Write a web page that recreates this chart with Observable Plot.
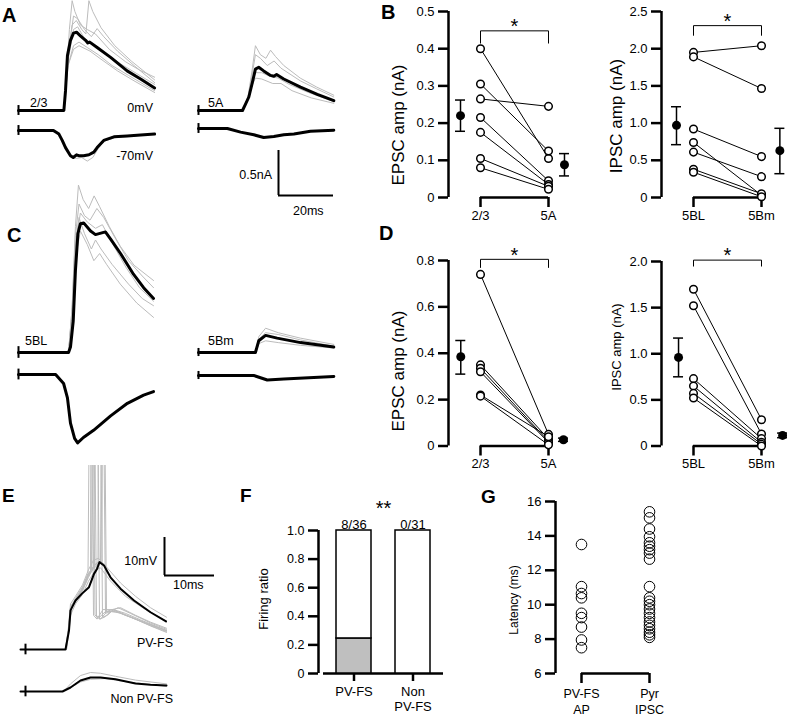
<!DOCTYPE html>
<html><head><meta charset="utf-8">
<script src="https://cdn.jsdelivr.net/npm/d3@7"></script>
<script src="https://cdn.jsdelivr.net/npm/@observablehq/plot@0.6"></script>
<style>
html,body{margin:0;padding:0;background:#fff;}
#fig{position:relative;width:787px;height:717px;overflow:hidden;background:#fff;}
</style></head><body><div id="fig"></div>
<script>
// ================= DATA =================
// ---- Panel B (amplitudes, nA) ----
const bEpscCats = ["2/3", "5A"];
const bEpscTicks = [0, 0.1, 0.2, 0.3, 0.4, 0.5];
const bEpscPre  = [0.40, 0.305, 0.265, 0.215, 0.175, 0.105, 0.08];
const bEpscPost = [0.105, 0.125, 0.245, 0.045, 0.035, 0.03, 0.022];
const bEpscMean = [0.22, 0.088];
const bEpscErr  = [[0.178, 0.262], [0.058, 0.118]];

const bIpscCats = ["5BL", "5Bm"];
const bIpscTicks = [0, 0.5, 1.0, 1.5, 2.0, 2.5];
const bIpscPre  = [1.95, 1.89, 0.92, 0.74, 0.61, 0.38, 0.34];
const bIpscPost = [2.04, 1.465, 0.55, 0.03, 0.28, 0.05, 0.01];
const bIpscMean = [0.97, 0.63];
const bIpscErr  = [[0.71, 1.22], [0.32, 0.93]];

// ---- Panel D ----
const dEpscCats = ["2/3", "5A"];
const dEpscTicks = [0, 0.2, 0.4, 0.6, 0.8];
const dEpscPre  = [0.74, 0.35, 0.335, 0.32, 0.22, 0.215];
const dEpscPost = [0.05, 0.03, 0.02, 0.015, 0.04, 0.005];
const dEpscMean = [0.385, 0.027];
const dEpscErr  = [[0.31, 0.455], [0.02, 0.034]];

const dIpscCats = ["5BL", "5Bm"];
const dIpscTicks = [0, 0.5, 1.0, 1.5, 2.0];
const dIpscPre  = [1.70, 1.52, 0.73, 0.65, 0.57, 0.52];
const dIpscPost = [0.285, 0.13, 0.08, 0.04, 0.02, 0.0];
const dIpscMean = [0.96, 0.115];
const dIpscErr  = [[0.75, 1.17], [0.09, 0.14]];

// ---- Panel F (firing ratio) ----
const fCats = [["PV-FS", ""], ["Non", "PV-FS"]];
const fTicks = [0, 0.2, 0.4, 0.6, 0.8, 1.0];
const fFired = [0.245, 0];
const fCounts = ["8/36", "0/31"];

// ---- Panel G (latency, ms) ----
const gCats = [["PV-FS", "AP"], ["Pyr", "IPSC"]];
const gTicks = [6, 8, 10, 12, 14, 16];
const gPvAp = [13.5, 11.05, 10.65, 10.4, 9.5, 9.25, 8.7, 7.95, 7.5];
const gPyrIpsc = [15.4, 15.05, 14.4, 13.95, 13.6, 13.4, 13.2, 13.0, 12.65,
                  11.05, 10.4, 10.2, 10.0, 9.75, 9.5, 9.25, 9.0, 8.8, 8.6, 8.4, 8.25, 8.1];

// ---- Traces: [time ms, current nA] ----
const aL23_black = [[0,0],[16.5,0],[17.1,0.22],[17.8,0.61],[18.9,0.78],[20,0.86],[21.1,0.87],[22.5,0.83],[24.4,0.78],[25.2,0.75],[25.9,0.76],[28.6,0.70],[33.5,0.59],[39.5,0.44],[44.4,0.35],[49.5,0.25]];
const aL23_g1 = [[0,0],[16.5,0],[17.5,0.4],[18.5,0.9],[19.5,1.22],[20.5,1.1],[22.5,0.95],[25,0.9],[28,0.85],[33,0.68],[39,0.54],[44,0.45],[49.5,0.37]];
const aL23_g2 = [[0,0],[16.5,0],[17.8,0.6],[19.5,0.95],[21,1.0],[23,0.9],[24.5,0.85],[25.6,1.22],[27,1.1],[30,0.92],[35,0.72],[41,0.55],[49.5,0.34]];
const aL23_g3 = [[0,0],[16.5,0],[18,0.6],[20,1.05],[21.5,1.02],[24,0.9],[26.5,0.82],[28.6,0.91],[31,0.82],[36,0.66],[42,0.5],[49.5,0.31]];
const aL23_g4 = [[0,0],[16.5,0],[18,0.55],[20,0.9],[21.5,0.93],[24,0.8],[27,0.74],[31,0.65],[37,0.52],[43,0.41],[49.5,0.29]];
const aL23_g5 = [[0,0],[16.5,0],[18,0.5],[20,0.72],[22,0.76],[25,0.7],[29,0.62],[34,0.5],[40,0.39],[49.5,0.22]];
const aL23_g6 = [[0,0],[16.5,0],[18,0.5],[20,0.68],[22,0.72],[26,0.66],[30,0.57],[36,0.44],[42,0.33],[49.5,0.2]];
const aL70_black = [[0,0],[12.7,0],[14.7,-0.04],[15.9,-0.11],[17.1,-0.19],[18.9,-0.28],[19.9,-0.30],[21.1,-0.27],[21.9,-0.28],[23.7,-0.28],[25.6,-0.27],[27.4,-0.24],[28.6,-0.19],[31,-0.11],[34.7,-0.07],[39.5,-0.06],[44.4,-0.05],[49.5,-0.04]];
const aL70_g1 = [[0,0],[12.7,0],[15,-0.06],[17,-0.2],[19,-0.29],[21,-0.31],[23,-0.3],[25,-0.34],[27,-0.3],[29,-0.2],[31,-0.12],[35,-0.08],[49.5,-0.04]];
const aR5A_black = [[0,0],[16,0],[17.1,0.07],[18.3,0.15],[19.5,0.30],[20.7,0.46],[21.9,0.48],[23.7,0.44],[26.2,0.39],[27.4,0.38],[28.4,0.40],[31,0.35],[37.1,0.26],[43.2,0.18],[49.2,0.11]];
const aR5A_g1 = [[0,0],[16,0],[18,0.15],[19.5,0.45],[20.7,0.72],[22.5,0.62],[24.5,0.58],[26.2,0.67],[28,0.6],[31,0.5],[37,0.36],[43,0.26],[49.2,0.17]];
const aR5A_g2 = [[0,0],[16,0],[18,0.15],[19.5,0.4],[20.7,0.62],[22.5,0.58],[25,0.5],[27.5,0.55],[30,0.47],[37,0.33],[43,0.24],[49.2,0.15]];
const aR5A_g3 = [[0,0],[16,0],[18,0.12],[19.5,0.3],[20.7,0.42],[23,0.42],[26,0.38],[29,0.36],[33,0.29],[40,0.2],[49.2,0.1]];
const aR5A_g4 = [[0,0],[16,0],[18,0.12],[19.5,0.28],[20.7,0.36],[23,0.35],[27,0.3],[30,0.3],[34,0.22],[41,0.14],[49.2,0.08]];
const aR70_black = [[0,0],[10.5,0],[15.3,-0.04],[20.1,-0.07],[23.7,-0.10],[27.4,-0.09],[31,-0.07],[34.7,-0.06],[40.7,-0.03],[49.2,-0.02]];

const cBL_black = [[0,0],[18.2,0],[18.9,0.06],[19.9,0.35],[20.7,0.91],[21.6,1.32],[22.5,1.43],[23.7,1.44],[26.2,1.35],[28,1.31],[31.6,1.34],[33.5,1.26],[37.1,1.10],[41.8,0.87],[45.5,0.72],[49.1,0.60]];
const cBL_g1 = [[0,0],[18.2,0],[19.5,0.5],[20.7,1.4],[21.8,1.86],[23.5,1.7],[25.5,1.6],[27.5,1.74],[29.5,1.62],[33,1.4],[37,1.18],[42,0.97],[49.1,0.8]];
const cBL_g2 = [[0,0],[18.2,0],[19.5,0.5],[20.7,1.3],[22,1.65],[24,1.52],[26,1.47],[28.5,1.6],[31,1.5],[35,1.28],[40,1.02],[45,0.85],[49.1,0.72]];
const cBL_g3 = [[0,0],[18.2,0],[19.5,0.45],[20.7,1.2],[22,1.5],[24,1.32],[26.5,1.15],[28,1.25],[30,1.15],[34,0.98],[40,0.76],[45,0.6],[49.1,0.52]];
const cBL_g4 = [[0,0],[18.2,0],[19.5,0.4],[21,1.1],[22.5,1.35],[25,1.2],[27.4,1.02],[29.5,1.1],[32,0.98],[37,0.76],[43,0.55],[49.1,0.39]];
const cBL_g5 = [[0,0],[18.2,0],[19.5,0.45],[21,1.25],[22.5,1.55],[25,1.45],[28,1.38],[30.5,1.42],[34,1.22],[39,0.95],[44,0.72],[49.1,0.57]];
const cBL70_black = [[0,0],[13.5,0],[16.4,-0.1],[17.8,-0.26],[18.9,-0.54],[20.4,-0.71],[21.5,-0.76],[23.6,-0.7],[27.3,-0.62],[33.5,-0.46],[39.6,-0.32],[45.5,-0.23],[49.1,-0.19]];
const cBm_black = [[0,0],[20.7,0],[21.9,0.13],[24.4,0.19],[28.6,0.16],[37.1,0.11],[49.2,0.06]];
const cBm_g1 = [[0,0],[20.7,0],[22,0.18],[24.4,0.27],[29,0.22],[37,0.16],[49.2,0.09]];
const cBm_g2 = [[0,0],[20.7,0],[22,0.1],[24.4,0.13],[29,0.11],[37,0.08],[49.2,0.05]];
const cBm_g3 = [[0,0],[20.7,0],[22,0.15],[24.4,0.22],[29,0.2],[37,0.14],[49.2,0.07]];
const cBm70_black = [[0,0],[20.1,0],[25,-0.05],[31,-0.04],[49.2,-0.01]];

// ---- Panel E traces: [time ms, membrane potential mV] ----
const ePv_black = [[0,0],[9,0],[9.7,5],[10,10.3],[11,12.9],[12.3,14.7],[13.7,16.4],[14.7,19.9],[15.3,21.2],[15.8,23],[16.7,22.1],[18,19],[20,16],[22.7,12.9],[26,9.8],[29.1,7.4]];
const ePv_g1 = [[0,0],[9,0],[9.6,6],[10,12],[11,14],[12.4,17],[13.6,21],[14.6,23.5],[15.6,24],[17,22],[20,17.5],[23,14],[26,11],[29.2,8.5]];
const ePv_g2 = [[0,0],[9.2,0],[10,9],[11,12],[12.4,14.5],[13.6,18],[15,21],[16,21.5],[18,18],[21,14],[25,10.5],[29.2,7.5]];
const ePv_s1 = [[0,0],[9,0],[9.6,5],[10,11],[11,13.5],[12.4,16.5],[13.5,20],[13.8,70],[14.2,70],[14.6,9],[15.3,8],[16.5,10.5],[18.5,10.5],[21,9],[25,7],[29.2,5]];
const ePv_s2 = [[0,0],[9.1,0],[9.7,6],[10.1,11.5],[11,13],[12.4,16],[13.6,19.5],[14.2,21],[14.4,70],[14.8,70],[15.2,8.5],[16,8],[17.3,10],[19,10],[22,8.5],[26,6.3],[29.2,4.7]];
const ePv_s3 = [[0,0],[9,0],[9.6,5.5],[10,11],[11,12.5],[12.4,15.5],[13.6,19],[14.6,21.5],[15,70],[15.4,70],[15.8,8],[16.8,8.5],[18,10],[20,9.6],[23,8],[26,6.2],[29.2,4.5]];
const ePv_s4 = [[0,0],[9.2,0],[9.8,6],[10.2,11],[11,13],[12.4,16],[13.6,20],[15,22.5],[15.5,23],[15.6,70],[16,70],[16.4,8.5],[17.4,9],[18.6,10.5],[21,9.5],[24,7.8],[29.2,5]];
const ePv_s5 = [[0,0],[9,0],[9.6,5],[10,10.5],[11,12.5],[12.4,15.5],[13.6,19.5],[15,22],[16,23],[16.2,70],[16.6,70],[17,9.5],[18,10],[19.5,11],[22,9.5],[26,7],[29.2,5.3]];
const ePv_s6 = [[0,0],[9.1,0],[9.7,5.5],[10.1,11],[11,13],[12.4,16],[13.6,20],[15,22.5],[16.3,23.2],[16.4,70],[16.8,70],[17.2,10],[18.3,10.5],[20,11],[23,9],[26,7.2],[29.2,5.6]];
const ePv_s7 = [[0,0],[9,0],[9.6,5],[10,11],[11,13],[12.4,16],[13.6,19.5],[14,20.5],[14.1,70],[14.5,70],[14.9,9],[15.8,8.5],[17,10],[19,10.2],[22,8.6],[26,6.5],[29.2,4.9]];
const eNon_black = [[0,0],[8.4,0],[10,1.05],[12,2.9],[14,3.7],[16,3.7],[19,3.2],[23,2.1],[26,1.8],[29.2,1.6]];
const eNon_g1 = [[0,0],[8.6,0],[10,2],[12,4.2],[14,5],[16,4.8],[19,4],[23,3],[29.2,2]];
const eNon_g2 = [[0,0],[8.4,0],[10,1],[12,2.5],[14,3.2],[17,3.4],[21,2.6],[29.2,1.3]];

// scale bars (units)
const aScaleBar = {nA: 0.5, ms: 20};
const eScaleBar = {mV: 10, ms: 10};

// ================= LAYOUT / STYLE =================
const FONT = '"Liberation Sans", Arial, Helvetica, sans-serif';
const STYLE = {background: "transparent", overflow: "visible", fontFamily: FONT, fontSize: "13px", color: "black"};
const fig = document.getElementById("fig");
function place(el, left, top) {
  el.style.position = "absolute"; el.style.left = left + "px"; el.style.top = top + "px";
  fig.appendChild(el); return el;
}
const fmt1 = d => d === 0 ? "0" : d.toFixed(1);

function tracePlot({left, top, width, height, ox, oy, kx, ky, marks}) {
  const p = Plot.plot({
    width, height, margin: 0,
    x: {domain: [(left - ox) / kx, (left + width - ox) / kx], range: [0, width], axis: null},
    y: {domain: [(oy - (top + height)) / ky, (oy - top) / ky], range: [height, 0], axis: null},
    style: STYLE, marks
  });
  return place(p, left, top);
}
const GR = d => Plot.line(d, {stroke: "#bcbcbc", strokeWidth: 1});
const BK = (d, w = 3) => Plot.line(d, {stroke: "black", strokeWidth: w, strokeLinejoin: "round"});
const STIM = (h, t = 0, w = 2) => Plot.ruleX([t], {y1: -h, y2: h, strokeWidth: w});

// ---- Panel A ----
const A = {kx: 2.75, ky: 90};
tracePlot({left: 10, top: 0, width: 150, height: 118, ox: 18, oy: 110, ...A,
  marks: [GR(aL23_g1), GR(aL23_g2), GR(aL23_g3), GR(aL23_g4), GR(aL23_g5), GR(aL23_g6), BK(aL23_black), STIM(0.055)]});
tracePlot({left: 10, top: 118, width: 150, height: 50, ox: 18, oy: 130, ...A,
  marks: [GR(aL70_g1), BK(aL70_black), STIM(0.055)]});
tracePlot({left: 190, top: 30, width: 150, height: 88, ox: 198, oy: 110, ...A,
  marks: [GR(aR5A_g1), GR(aR5A_g2), GR(aR5A_g3), GR(aR5A_g4), BK(aR5A_black), STIM(0.055)]});
tracePlot({left: 190, top: 118, width: 150, height: 30, ox: 198, oy: 128, ...A,
  marks: [BK(aR70_black), STIM(0.055)]});
tracePlot({left: 270, top: 140, width: 70, height: 60, ox: 278, oy: 195, ...A,
  marks: [Plot.ruleX([0], {y1: 0, y2: aScaleBar.nA, strokeWidth: 2}),
          Plot.ruleY([0], {x1: 0, x2: aScaleBar.ms, strokeWidth: 2})]});

// ---- Panel C ----
tracePlot({left: 10, top: 175, width: 150, height: 185, ox: 18, oy: 352, ...A,
  marks: [GR(cBL_g1), GR(cBL_g2), GR(cBL_g3), GR(cBL_g4), GR(cBL_g5), BK(cBL_black), STIM(0.065)]});
tracePlot({left: 10, top: 362, width: 150, height: 88, ox: 18, oy: 374, ...A,
  marks: [BK(cBL70_black), STIM(0.06)]});
tracePlot({left: 190, top: 300, width: 150, height: 60, ox: 198, oy: 352, ...A,
  marks: [GR(cBm_g1), GR(cBm_g2), GR(cBm_g3), BK(cBm_black), STIM(0.045)]});
tracePlot({left: 190, top: 362, width: 150, height: 30, ox: 198, oy: 375, ...A,
  marks: [BK(cBm70_black), STIM(0.045)]});

// ---- Panel E ----
const E = {kx: 5, ky: 3.8};
const SP = d => Plot.line(d, {stroke: "#bcbcbc", strokeWidth: 1, clip: true});
tracePlot({left: 10, top: 465, width: 165, height: 195, ox: 20, oy: 649, ...E,
  marks: [SP(ePv_s1), SP(ePv_s2), SP(ePv_s3), SP(ePv_s4), SP(ePv_s5), SP(ePv_s6), SP(ePv_s7),
          GR(ePv_g1), GR(ePv_g2), BK(ePv_black, 2), STIM(1.4, 1, 2)]});
tracePlot({left: 10, top: 662, width: 165, height: 40, ox: 20, oy: 691, ...E,
  marks: [GR(eNon_g1), GR(eNon_g2), BK(eNon_black, 2), STIM(1.4, 1, 2)]});
tracePlot({left: 155, top: 530, width: 65, height: 50, ox: 164, oy: 575, ...E,
  marks: [Plot.ruleX([0], {y1: 0, y2: eScaleBar.mV, strokeWidth: 2}),
          Plot.ruleY([0], {x1: 0, x2: eScaleBar.ms, strokeWidth: 2})]});

// ---- Paired plots (B, D) ----
function pairedPlot(c) {
  const k = c.catPx[1] - c.catPx[0];
  const ux = px => (px - c.catPx[0]) / k;
  const pairs = c.pre.map((a, i) => ({a, b: c.post[i]}));
  const means = c.mean.map((m, i) => ({x: c.meanX[i], m, lo: c.err[i][0], hi: c.err[i][1]}));
  const cap = 5 / k;
  const [yb, yt] = c.yDomain;
  const p = Plot.plot({
    width: c.width, height: c.height,
    marginLeft: c.axisPx - c.left, marginRight: 0, marginTop: 0,
    marginBottom: c.top + c.height - c.yPx[0],
    x: {domain: [0, 1], range: [c.catPx[0] - c.left, c.catPx[1] - c.left]},
    y: {domain: c.yDomain, range: [c.yPx[0] - c.top, c.yPx[1] - c.top]},
    style: STYLE,
    marks: [
      Plot.ruleX([ux(c.axisPx)], {y1: yb, y2: yt, strokeWidth: 2.5}),
      Plot.axisY(c.ticks, {tickFormat: fmt1, tickSize: 10, tickPadding: 4, strokeWidth: 2.5, fontSize: 13, label: null}),
      Plot.ruleY([yb], {x1: 0, x2: 1, strokeWidth: 2.5}),
      Plot.axisX([0, 1], {tickFormat: i => c.cats[i], tickSize: 10, tickPadding: 3, strokeWidth: 2.5, fontSize: 13, label: null}),
      Plot.line([[0, c.sig.leg], [0, c.sig.top], [1, c.sig.top], [1, c.sig.leg]], {strokeWidth: 1}),
      Plot.text(["*"], {x: 0.5, y: c.sig.top, text: d => d, fontSize: 20, lineAnchor: "top", dy: -12}),
      Plot.link(pairs, {x1: 0, x2: 1, y1: "a", y2: "b", strokeWidth: 1}),
      Plot.dot(c.pre, {x: 0, y: d => d, r: 3.8, fill: "white", stroke: "black", strokeWidth: 1.5}),
      Plot.dot(c.post, {x: 1, y: d => d, r: 3.8, fill: "white", stroke: "black", strokeWidth: 1.5}),
      Plot.link(means, {x1: "x", x2: "x", y1: "lo", y2: "hi", strokeWidth: 1.5}),
      Plot.ruleY(means, {y: "lo", x1: d => d.x - cap, x2: d => d.x + cap, strokeWidth: 1.5}),
      Plot.ruleY(means, {y: "hi", x1: d => d.x - cap, x2: d => d.x + cap, strokeWidth: 1.5}),
      Plot.dot(means, {x: "x", y: "m", r: 4.5, fill: "black"})
    ]
  });
  place(p, c.left, c.top);
}

pairedPlot({left: 400, top: 0, width: 185, height: 225, axisPx: 448, catPx: [480, 548], yPx: [197, 11],
  yDomain: [0, 0.5], ticks: bEpscTicks, cats: bEpscCats, pre: bEpscPre, post: bEpscPost,
  mean: bEpscMean, err: bEpscErr, meanX: [-0.294, 1.235], sig: {top: 0.448, leg: 0.415}});
pairedPlot({left: 610, top: 0, width: 177, height: 225, axisPx: 661, catPx: [693, 761], yPx: [197, 11],
  yDomain: [0, 2.5], ticks: bIpscTicks, cats: bIpscCats, pre: bIpscPre, post: bIpscPost,
  mean: bIpscMean, err: bIpscErr, meanX: [-0.25, 1.27], sig: {top: 2.31, leg: 2.18}});
pairedPlot({left: 400, top: 240, width: 185, height: 230, axisPx: 448, catPx: [480, 548], yPx: [445.5, 260],
  yDomain: [0, 0.8], ticks: dEpscTicks, cats: dEpscCats, pre: dEpscPre, post: dEpscPost,
  mean: dEpscMean, err: dEpscErr, meanX: [-0.29, 1.22], sig: {top: 0.805, leg: 0.77}});
pairedPlot({left: 610, top: 240, width: 177, height: 230, axisPx: 661, catPx: [693, 761], yPx: [445.5, 261],
  yDomain: [0, 2.0], ticks: dIpscTicks, cats: dIpscCats, pre: dIpscPre, post: dIpscPost,
  mean: dIpscMean, err: dIpscErr, meanX: [-0.22, 1.31], sig: {top: 2.015, leg: 1.95}});

// ---- Panel F ----
(function () {
  const left = 290, top = 490, width = 160, height = 227;
  const axisPx = 318, catPx = [353.5, 412.5], yPx = [673, 530];
  const k = catPx[1] - catPx[0];
  const ux = px => (px - catPx[0]) / k;
  const half = 17.5 / k;
  const bars = fCats.map((c, i) => ({i, fired: fFired[i], count: fCounts[i]}));
  const p = Plot.plot({
    width, height, marginLeft: axisPx - left, marginRight: 0, marginTop: 0, marginBottom: top + height - yPx[0],
    x: {domain: [0, 1], range: [catPx[0] - left, catPx[1] - left]},
    y: {domain: [0, 1], range: [yPx[0] - top, yPx[1] - top]},
    style: STYLE,
    marks: [
      Plot.ruleX([ux(axisPx)], {y1: 0, y2: 1, strokeWidth: 2.5}),
      Plot.axisY(fTicks, {tickFormat: fmt1, tickSize: 10, tickPadding: 4, strokeWidth: 2.5, fontSize: 12.5, label: null}),
      Plot.ruleY([0], {x1: ux(323), x2: ux(443), strokeWidth: 2.5}),
      Plot.axisX([0, 1], {tickFormat: i => fCats[i][0], tickSize: 8, tickPadding: 5, strokeWidth: 2.5, fontSize: 13, label: null}),
      Plot.axisX([0, 1], {tickFormat: i => fCats[i][1], tickSize: 0, tickPadding: 28, fontSize: 13, label: null}),
      Plot.rect(bars.filter(d => d.fired > 0), {x1: d => d.i - half, x2: d => d.i + half, y1: 0, y2: "fired", fill: "#bfbfbf", stroke: "black", strokeWidth: 1.5}),
      Plot.rect(bars, {x1: d => d.i - half, x2: d => d.i + half, y1: "fired", y2: 1, fill: "white", stroke: "black", strokeWidth: 1.5}),
      Plot.text(bars, {x: "i", y: 1, text: "count", lineAnchor: "bottom", dy: -2, fontSize: 13}),
      Plot.text(["**"], {x: 0.5, y: 1, text: d => d, fontSize: 20, lineAnchor: "top", dy: -30})
    ]
  });
  place(p, left, top);
})();

// ---- Panel G ----
(function () {
  const left = 500, top = 490, width = 180, height = 227;
  const axisPx = 555, catPx = [581, 649], yPx = [673, 501];
  const k = catPx[1] - catPx[0];
  const ux = px => (px - catPx[0]) / k;
  const p = Plot.plot({
    width, height, marginLeft: axisPx - left, marginRight: 0, marginTop: 0, marginBottom: top + height - yPx[0],
    x: {domain: [0, 1], range: [catPx[0] - left, catPx[1] - left]},
    y: {domain: [6, 16], range: [yPx[0] - top, yPx[1] - top]},
    style: STYLE,
    marks: [
      Plot.ruleX([ux(axisPx)], {y1: 6, y2: 16, strokeWidth: 2.5}),
      Plot.axisY(gTicks, {tickFormat: d => String(d), tickSize: 10, tickPadding: 4, strokeWidth: 2.5, fontSize: 13, label: null}),
      Plot.ruleY([6], {x1: 0, x2: 1, strokeWidth: 2.5}),
      Plot.axisX([0, 1], {tickFormat: i => gCats[i][0], tickSize: 10, tickPadding: 6, strokeWidth: 2.5, fontSize: 12.5, label: null}),
      Plot.axisX([0, 1], {tickFormat: i => gCats[i][1], tickSize: 0, tickPadding: 32, fontSize: 12.5, label: null}),
      Plot.dot(gPvAp, {x: 0, y: d => d, r: 5.3, fill: "none", stroke: "black", strokeWidth: 1}),
      Plot.dot(gPyrIpsc, {x: 1, y: d => d, r: 5.3, fill: "none", stroke: "black", strokeWidth: 1})
    ]
  });
  place(p, left, top);
})();

// ---- Text labels ----
const textLayout = [
  {t: "A", x: 2, y: 22, s: 20, w: "bold"},
  {t: "B", x: 381, y: 19, s: 20, w: "bold"},
  {t: "C", x: 7, y: 242, s: 20, w: "bold"},
  {t: "D", x: 379, y: 240, s: 20, w: "bold"},
  {t: "E", x: 2, y: 502, s: 19, w: "bold"},
  {t: "F", x: 240, y: 502, s: 19, w: "bold"},
  {t: "G", x: 481, y: 503, s: 19, w: "bold"},
  {t: "2/3", x: 30, y: 107, s: 12.5},
  {t: "0mV", x: 153, y: 112, s: 12.5, a: "end"},
  {t: "-70mV", x: 153, y: 160, s: 12.5, a: "end"},
  {t: "5A", x: 208, y: 107, s: 12.5},
  {t: "0.5nA", x: 272, y: 179, s: 12.5, a: "end"},
  {t: "20ms", x: 293, y: 215, s: 12.5},
  {t: "5BL", x: 25, y: 345, s: 12.5},
  {t: "5Bm", x: 208, y: 345, s: 12.5},
  {t: "10mV", x: 157, y: 565, s: 12.5, a: "end"},
  {t: "10ms", x: 173, y: 589, s: 12.5},
  {t: "PV-FS", x: 173, y: 647, s: 12.5, a: "end"},
  {t: "Non PV-FS", x: 173, y: 703, s: 12.5, a: "end"},
  {t: "EPSC  amp (nA)", x: 404, y: 125, s: 17, a: "middle", r: -90},
  {t: "IPSC amp (nA)", x: 622, y: 116, s: 17, a: "middle", r: -90},
  {t: "EPSC  amp (nA)", x: 404, y: 371, s: 17, a: "middle", r: -90},
  {t: "IPSC amp (nA)", x: 621, y: 347, s: 13, a: "middle", r: -90},
  {t: "Firing ratio", x: 268, y: 599, s: 13, a: "middle", r: -90},
  {t: "Latency (ms)", x: 518, y: 600, s: 12, a: "middle", r: -90}
];
const ov = d3.create("svg").attr("width", 787).attr("height", 717)
  .style("position", "absolute").style("left", "0px").style("top", "0px")
  .attr("font-family", FONT).style("white-space", "pre");
for (const L of textLayout) {
  const t = ov.append("text").attr("x", L.x).attr("y", L.y).attr("font-size", L.s)
    .attr("font-weight", L.w || "normal").attr("text-anchor", L.a || "start").attr("fill", "black").text(L.t);
  if (L.r) t.attr("transform", `rotate(${L.r},${L.x},${L.y})`);
}
fig.appendChild(ov.node());
</script></body></html>
